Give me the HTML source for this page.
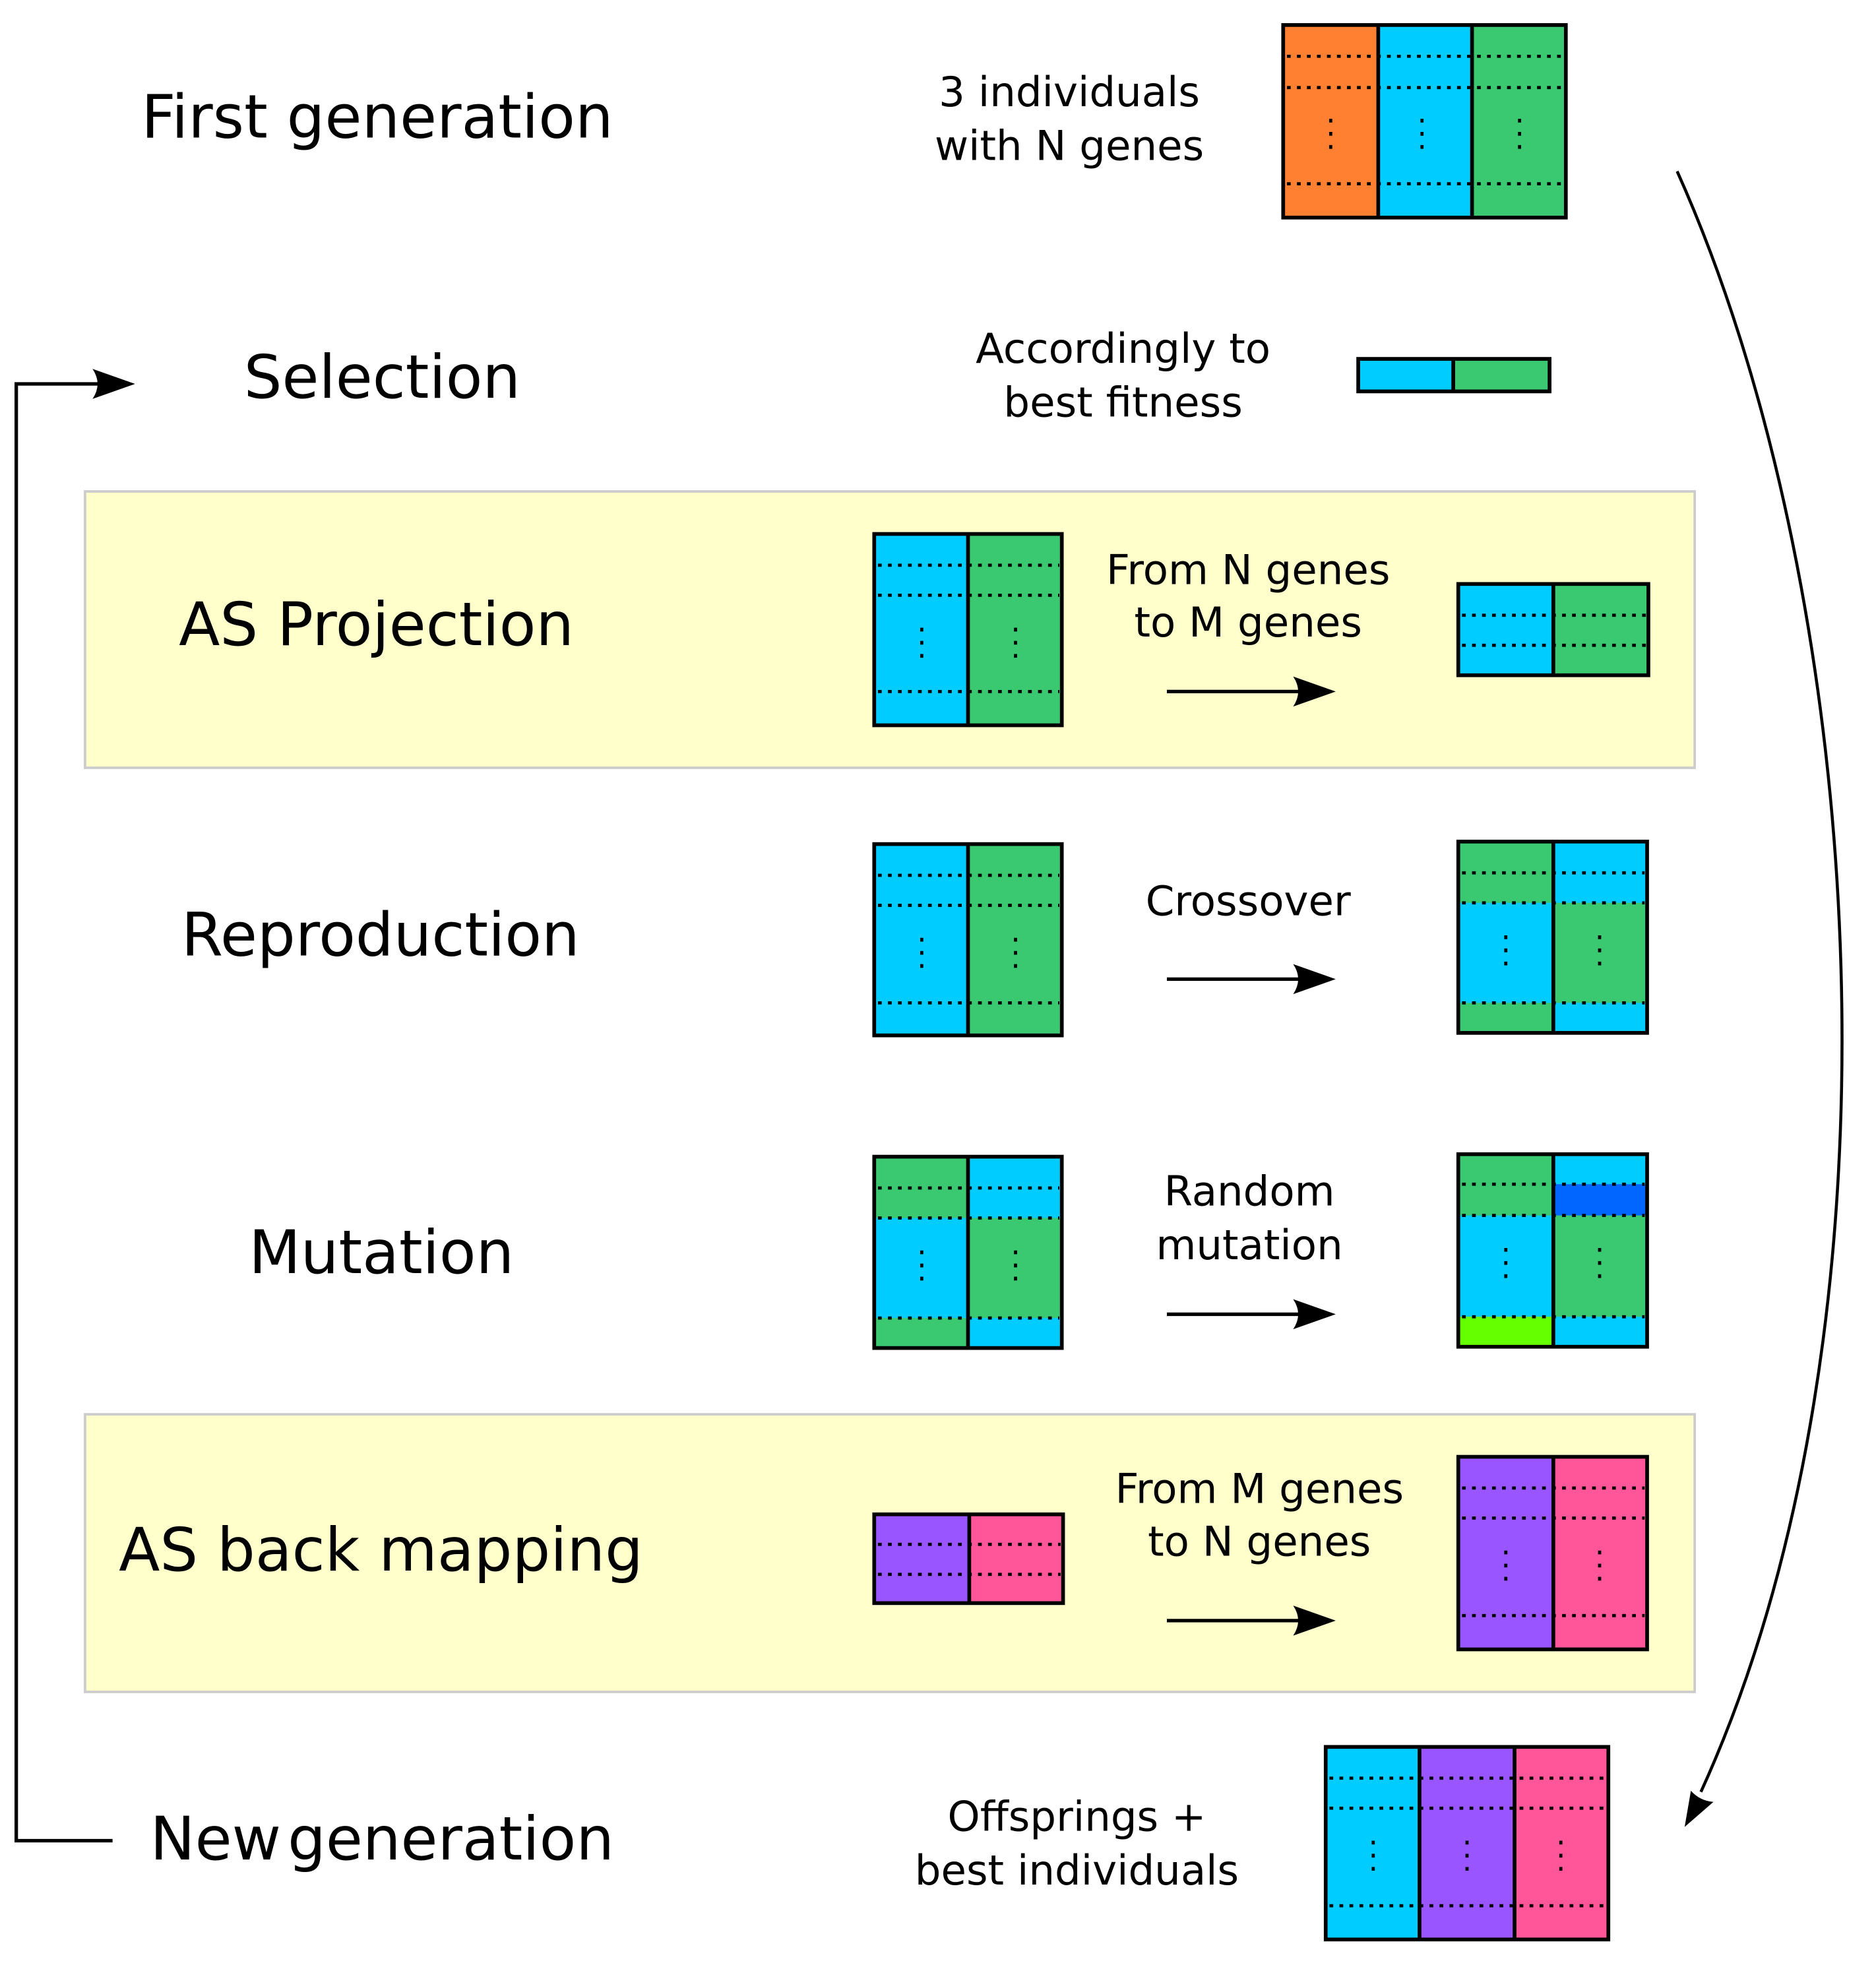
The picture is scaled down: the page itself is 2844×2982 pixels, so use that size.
<!DOCTYPE html>
<html><head><meta charset="utf-8"><style>html,body{margin:0;padding:0;background:#fff}svg{display:block}</style></head><body>
<svg width="2844" height="2982" viewBox="0 0 1500 1573" preserveAspectRatio="none" xmlns="http://www.w3.org/2000/svg" font-family="'DejaVu Sans','Liberation Sans',sans-serif">
<defs>
<path id="ah" d="M0,0 L-34,-12 Q-26,0 -34,12 Z" fill="#000"/>
</defs>
<style>.d{stroke:#000;stroke-width:2.5;stroke-dasharray:3 5}.vd{stroke:#000;stroke-width:2.5;stroke-dasharray:3 7.5}.o{fill:none;stroke:#000;stroke-width:3}</style>
<rect x="68" y="393" width="1287" height="221" fill="#FFFFCC" stroke="#ccc" stroke-width="2"/>
<rect x="68" y="1131" width="1287" height="222" fill="#FFFFCC" stroke="#ccc" stroke-width="2"/>

<g font-size="48" fill="#000">
<text x="113" y="110">First generation</text>
<text x="195" y="318">Selection</text>
<text x="143" y="516">AS Projection</text>
<text x="145" y="764">Reproduction</text>
<text x="199" y="1018">Mutation</text>
<text x="95" y="1256">AS back mapping</text>
<text x="120" y="1487">New<tspan x="230">generation</tspan></text>
</g>
<g font-size="33" fill="#000" text-anchor="middle">
<text x="855" y="85">3 individuals</text><text x="855" y="128">with N genes</text>
<text x="898" y="290">Accordingly to</text><text x="898" y="333">best fitness</text>
<text x="998" y="467">From N genes</text><text x="998" y="509">to M genes</text>
<text x="998" y="732">Crossover</text>
<text x="999" y="964">Random</text><text x="999" y="1007">mutation</text>
<text x="1007" y="1202">From M genes</text><text x="1007" y="1244">to N genes</text>
<text x="861" y="1464">Offsprings +</text><text x="861" y="1507">best individuals</text>
</g>

<rect x="1026" y="20" width="76" height="154" fill="#FF8030"/>
<rect x="1102" y="20" width="75" height="154" fill="#00CCFF"/>
<rect x="1177" y="20" width="75" height="154" fill="#3AC871"/>
<g class="d"><line x1="1029" y1="45" x2="1250" y2="45"/><line x1="1029" y1="70" x2="1250" y2="70"/><line x1="1029" y1="147" x2="1250" y2="147"/></g>
<g class="vd"><line x1="1064" y1="95" x2="1064" y2="124"/><line x1="1137" y1="95" x2="1137" y2="124"/><line x1="1215" y1="95" x2="1215" y2="124"/></g>
<g class="o"><rect x="1026" y="20" width="226" height="154"/><line x1="1102" y1="20" x2="1102" y2="174"/><line x1="1177" y1="20" x2="1177" y2="174"/></g>

<rect x="1086" y="287" width="76" height="26" fill="#00CCFF"/><rect x="1162" y="287" width="77" height="26" fill="#3AC871"/>
<g class="o"><rect x="1086" y="287" width="153" height="26"/><line x1="1162" y1="287" x2="1162" y2="313"/></g>

<rect x="699" y="427" width="75" height="153" fill="#00CCFF"/><rect x="774" y="427" width="75" height="153" fill="#3AC871"/>
<g class="d"><line x1="702" y1="452" x2="847" y2="452"/><line x1="702" y1="476" x2="847" y2="476"/><line x1="702" y1="553" x2="847" y2="553"/></g>
<g class="vd"><line x1="737" y1="502" x2="737" y2="531"/><line x1="812" y1="502" x2="812" y2="531"/></g>
<g class="o"><rect x="699" y="427" width="150" height="153"/><line x1="774" y1="427" x2="774" y2="580"/></g>
<rect x="1166" y="467" width="76" height="73" fill="#00CCFF"/><rect x="1242" y="467" width="76" height="73" fill="#3AC871"/>
<g class="d"><line x1="1169" y1="492" x2="1316" y2="492"/><line x1="1169" y1="516" x2="1316" y2="516"/></g>
<g class="o"><rect x="1166" y="467" width="152" height="73"/><line x1="1242" y1="467" x2="1242" y2="540"/></g>

<rect x="699" y="675" width="75" height="153" fill="#00CCFF"/><rect x="774" y="675" width="75" height="153" fill="#3AC871"/>
<g class="d"><line x1="702" y1="700" x2="847" y2="700"/><line x1="702" y1="724" x2="847" y2="724"/><line x1="702" y1="802" x2="847" y2="802"/></g>
<g class="vd"><line x1="737" y1="750" x2="737" y2="779"/><line x1="812" y1="750" x2="812" y2="779"/></g>
<g class="o"><rect x="699" y="675" width="150" height="153"/><line x1="774" y1="675" x2="774" y2="828"/></g>
<rect x="1166" y="673" width="76" height="153" fill="#3AC871"/><rect x="1166" y="722" width="76" height="80" fill="#00CCFF"/>
<rect x="1242" y="673" width="75" height="153" fill="#00CCFF"/><rect x="1242" y="722" width="75" height="80" fill="#3AC871"/>
<g class="d"><line x1="1169" y1="698" x2="1315" y2="698"/><line x1="1169" y1="722" x2="1315" y2="722"/><line x1="1169" y1="802" x2="1315" y2="802"/></g>
<g class="vd"><line x1="1204" y1="748" x2="1204" y2="777"/><line x1="1279" y1="748" x2="1279" y2="777"/></g>
<g class="o"><rect x="1166" y="673" width="151" height="153"/><line x1="1242" y1="673" x2="1242" y2="826"/></g>

<rect x="699" y="925" width="75" height="153" fill="#3AC871"/><rect x="699" y="974" width="75" height="80" fill="#00CCFF"/>
<rect x="774" y="925" width="75" height="153" fill="#00CCFF"/><rect x="774" y="974" width="75" height="80" fill="#3AC871"/>
<g class="d"><line x1="702" y1="950" x2="847" y2="950"/><line x1="702" y1="974" x2="847" y2="974"/><line x1="702" y1="1054" x2="847" y2="1054"/></g>
<g class="vd"><line x1="737" y1="1000" x2="737" y2="1029"/><line x1="812" y1="1000" x2="812" y2="1029"/></g>
<g class="o"><rect x="699" y="925" width="150" height="153"/><line x1="774" y1="925" x2="774" y2="1078"/></g>
<rect x="1166" y="923" width="76" height="154" fill="#3AC871"/><rect x="1166" y="972" width="76" height="81" fill="#00CCFF"/><rect x="1166" y="1053" width="76" height="24" fill="#66FF00"/>
<rect x="1242" y="923" width="75" height="154" fill="#00CCFF"/><rect x="1242" y="947" width="75" height="25" fill="#0066FF"/><rect x="1242" y="972" width="75" height="81" fill="#3AC871"/>
<g class="d"><line x1="1169" y1="947" x2="1315" y2="947"/><line x1="1169" y1="972" x2="1315" y2="972"/><line x1="1169" y1="1053" x2="1315" y2="1053"/></g>
<g class="vd"><line x1="1204" y1="998" x2="1204" y2="1027"/><line x1="1279" y1="998" x2="1279" y2="1027"/></g>
<g class="o"><rect x="1166" y="923" width="151" height="154"/><line x1="1242" y1="923" x2="1242" y2="1077"/></g>

<rect x="699" y="1211" width="76" height="71" fill="#9955FF"/><rect x="775" y="1211" width="75" height="71" fill="#FF5599"/>
<g class="d"><line x1="702" y1="1235" x2="848" y2="1235"/><line x1="702" y1="1259" x2="848" y2="1259"/></g>
<g class="o"><rect x="699" y="1211" width="151" height="71"/><line x1="775" y1="1211" x2="775" y2="1282"/></g>
<rect x="1166" y="1165" width="76" height="154" fill="#9955FF"/><rect x="1242" y="1165" width="75" height="154" fill="#FF5599"/>
<g class="d"><line x1="1169" y1="1190" x2="1315" y2="1190"/><line x1="1169" y1="1214" x2="1315" y2="1214"/><line x1="1169" y1="1292" x2="1315" y2="1292"/></g>
<g class="vd"><line x1="1204" y1="1240" x2="1204" y2="1269"/><line x1="1279" y1="1240" x2="1279" y2="1269"/></g>
<g class="o"><rect x="1166" y="1165" width="151" height="154"/><line x1="1242" y1="1165" x2="1242" y2="1319"/></g>

<rect x="1060" y="1397" width="75" height="154" fill="#00CCFF"/><rect x="1135" y="1397" width="76" height="154" fill="#9955FF"/><rect x="1211" y="1397" width="75" height="154" fill="#FF5599"/>
<g class="d"><line x1="1063" y1="1422" x2="1284" y2="1422"/><line x1="1063" y1="1446" x2="1284" y2="1446"/><line x1="1063" y1="1524" x2="1284" y2="1524"/></g>
<g class="vd"><line x1="1098" y1="1472" x2="1098" y2="1501"/><line x1="1173" y1="1472" x2="1173" y2="1501"/><line x1="1248" y1="1472" x2="1248" y2="1501"/></g>
<g class="o"><rect x="1060" y="1397" width="226" height="154"/><line x1="1135" y1="1397" x2="1135" y2="1551"/><line x1="1211" y1="1397" x2="1211" y2="1551"/></g>

<g stroke="#000" stroke-width="2.8">
<line x1="933" y1="553" x2="1040" y2="553"/><line x1="933" y1="783" x2="1040" y2="783"/><line x1="933" y1="1051" x2="1040" y2="1051"/><line x1="933" y1="1296" x2="1040" y2="1296"/>
</g>
<use href="#ah" transform="translate(1068,553)"/><use href="#ah" transform="translate(1068,783)"/><use href="#ah" transform="translate(1068,1051)"/><use href="#ah" transform="translate(1068,1296)"/>

<polyline points="90,1472 13,1472 13,307 82,307" fill="none" stroke="#000" stroke-width="2.8"/>
<use href="#ah" transform="translate(108,307)"/>

<path d="M1341,137 C1495,480 1530,1060 1360,1433" fill="none" stroke="#000" stroke-width="2.4"/>
<path d="M1347,1461 L1352,1432 Q1359,1440 1370,1441 Z" fill="#000"/>
</svg>
</body></html>
